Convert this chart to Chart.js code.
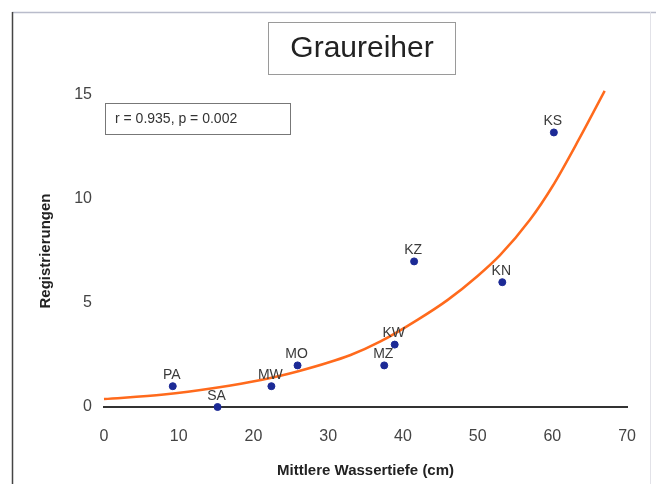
<!DOCTYPE html>
<html>
<head>
<meta charset="utf-8">
<script src="https://cdn.jsdelivr.net/npm/chart.js@4/dist/chart.umd.min.js"></script>
<style>
  html, body { margin: 0; padding: 0; background: #ffffff; }
  #wrap { width: 656px; height: 484px; position: relative; }
</style>
</head>
<body>
<div id="wrap"><canvas id="c" width="656" height="484"></canvas></div>
<script>
// ---- data ----
const siteLabels = ["PA", "SA", "MW", "MO", "MZ", "KW", "KZ", "KN", "KS"];
const waterDepth = [9.2, 15.2, 22.4, 25.9, 37.5, 38.9, 41.5, 53.3, 60.2];
const registrations = [1, 0, 1, 2, 2, 3, 7, 6, 13.2];
const trendX = [0, 8, 15, 21, 26, 33, 37, 42, 46, 50, 53, 57, 60, 63.6, 67];
const trendY = [0.38, 0.6, 0.93, 1.3, 1.72, 2.5, 3.15, 4.2, 5.15, 6.3, 7.3, 9.0, 10.6, 12.9, 15.2];
const xTicks = [0, 10, 20, 30, 40, 50, 60, 70];
const yTicks = [0, 5, 10, 15];
const chartTitle = "Graureiher";
const statsText = "r = 0.935, p = 0.002";
const xTitle = "Mittlere Wassertiefe (cm)";
const yTitle = "Registrierungen";

const FONT = "Arial, 'Liberation Sans', sans-serif";

const decorPlugin = {
  id: "decor",
  beforeDraw(chart) {
    const ctx = chart.ctx;
    ctx.save();
    ctx.fillStyle = "#ffffff";
    ctx.fillRect(0, 0, chart.width, chart.height);
    // outer frame
    ctx.strokeStyle = "#b9bccb";
    ctx.lineWidth = 1.5;
    ctx.beginPath();
    ctx.moveTo(12, 12.5); ctx.lineTo(656, 12.5);
    ctx.stroke();
    ctx.strokeStyle = "#444";
    ctx.lineWidth = 1.5;
    ctx.beginPath();
    ctx.moveTo(12.5, 12); ctx.lineTo(12.5, 484);
    ctx.stroke();
    ctx.strokeStyle = "#e2e2e8";
    ctx.lineWidth = 1;
    ctx.beginPath();
    ctx.moveTo(650.5, 12); ctx.lineTo(650.5, 484);
    ctx.stroke();
    // title box
    ctx.strokeStyle = "#9a9a9a";
    ctx.lineWidth = 1;
    ctx.strokeRect(268.5, 22.5, 187, 52);
    ctx.fillStyle = "#222";
    ctx.font = "30px " + FONT;
    ctx.textAlign = "center";
    ctx.textBaseline = "middle";
    ctx.fillText(chartTitle, 362, 49);
    ctx.restore();
  },
  afterDatasetsDraw(chart) {
    const ctx = chart.ctx;
    const xs = chart.scales.x, ys = chart.scales.y;
    ctx.save();
    // stats box
    ctx.fillStyle = "#ffffff";
    ctx.fillRect(105, 103, 185, 31);
    ctx.strokeStyle = "#777";
    ctx.lineWidth = 1;
    ctx.strokeRect(105.5, 103.5, 185, 31);
    ctx.fillStyle = "#333";
    ctx.font = "14px " + FONT;
    ctx.textAlign = "left";
    ctx.textBaseline = "middle";
    ctx.fillText(statsText, 115, 119);
    // point labels
    ctx.font = "14px " + FONT;
    ctx.textAlign = "center";
    ctx.textBaseline = "bottom";
    ctx.fillStyle = "#3a3a3a";
    for (let i = 0; i < siteLabels.length; i++) {
      const px = xs.getPixelForValue(waterDepth[i]);
      const py = ys.getPixelForValue(registrations[i]);
      ctx.fillText(siteLabels[i], px - 1, py - 4);
    }
    ctx.restore();
  }
};

new Chart(document.getElementById("c"), {
  type: "scatter",
  data: {
    datasets: [
      {
        type: "line",
        label: "Trend",
        data: trendX.map((x, i) => ({ x: x, y: trendY[i] })),
        borderColor: "#ff6a1c",
        borderWidth: 2.5,
        pointRadius: 0,
        cubicInterpolationMode: "monotone",
        fill: false,
        order: 2
      },
      {
        label: "Graureiher",
        data: waterDepth.map((x, i) => ({ x: x, y: registrations[i] })),
        backgroundColor: "#1c2a96",
        borderColor: "#1c2a96",
        pointRadius: 3.5,
        order: 1
      }
    ]
  },
  options: {
    responsive: false,
    animation: false,
    clip: false,
    layout: { padding: { left: 20, right: 28, top: 95, bottom: 4 } },
    plugins: {
      legend: { display: false },
      tooltip: { enabled: false }
    },
    scales: {
      x: {
        type: "linear",
        min: 0, max: 70,
        afterBuildTicks(s) { s.ticks = xTicks.map(v => ({ value: v })); },
        afterFit(s) { s.height = 73; },
        grid: { display: false, drawTicks: false },
        border: { display: true, color: "#333", width: 2 },
        ticks: { color: "#444", font: { family: FONT, size: 16 }, padding: 20, maxRotation: 0 },
        title: { display: true, text: xTitle, color: "#222", font: { family: FONT, size: 15, weight: "bold" }, padding: { top: 6, bottom: 0 } }
      },
      y: {
        type: "linear",
        min: 0, max: 15,
        afterBuildTicks(s) { s.ticks = yTicks.map(v => ({ value: v })); },
        afterFit(s) { s.width = 84; },
        grid: { display: false, drawTicks: false },
        border: { display: false },
        ticks: { color: "#444", font: { family: FONT, size: 16 }, padding: 12 },
        title: { display: true, text: yTitle, color: "#222", font: { family: FONT, size: 15, weight: "bold" }, padding: { top: 17, bottom: 0 } }
      }
    }
  },
  plugins: [decorPlugin]
});
</script>
</body>
</html>
